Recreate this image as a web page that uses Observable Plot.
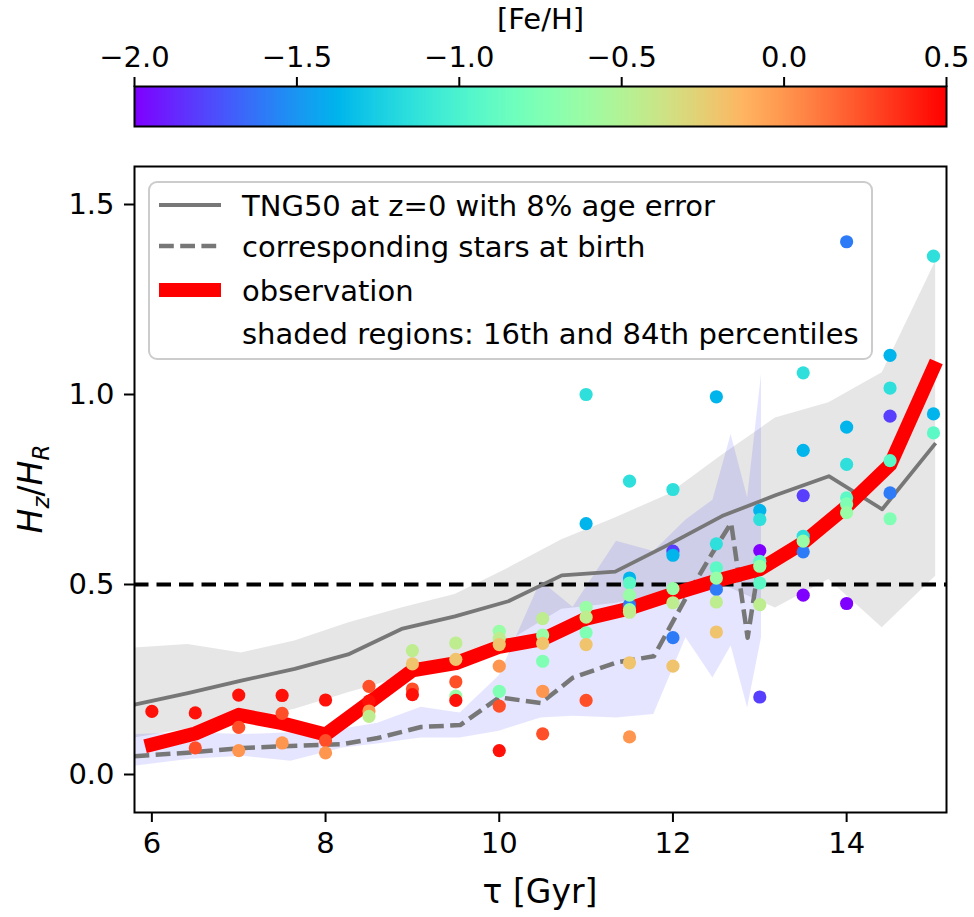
<!DOCTYPE html>
<html><head><meta charset="utf-8">
<script src="https://cdn.jsdelivr.net/npm/d3@7"></script>
<script src="https://cdn.jsdelivr.net/npm/@observablehq/plot@0.6"></script>
<style>
body{margin:0;background:#fff;}
#wrap{width:974px;height:917px;}
#wrap svg{display:block;}
</style></head><body><div id="wrap"></div>
<script>
// ---------- data ----------
const obsAge   = [6, 6.5, 7, 7.5, 8, 8.5, 9, 9.5, 10, 10.5, 11, 11.5, 12, 12.5, 13, 13.5, 14, 14.5, 15];
const obsHzHR  = [0.079, 0.108, 0.157, 0.135, 0.105, 0.189, 0.274, 0.293, 0.336, 0.356, 0.41, 0.437, 0.475, 0.51, 0.54, 0.61, 0.705, 0.815, 1.07];

const tngAge = [5.8, 6.415, 7.03, 7.645, 8.26, 8.875, 9.49, 10.105, 10.72, 11.335, 11.95, 12.565, 13.18, 13.795, 14.41, 15.025];
const tngMed = [0.184, 0.214, 0.247, 0.278, 0.316, 0.383, 0.416, 0.456, 0.524, 0.534, 0.605, 0.68, 0.735, 0.785, 0.698, 0.872];
const tngP84 = [0.333, 0.342, 0.32, 0.351, 0.399, 0.438, 0.474, 0.543, 0.618, 0.675, 0.737, 0.84, 0.938, 0.978, 1.057, 1.35];
const tngP16 = [0.096, 0.12, 0.14, 0.172, 0.215, 0.255, 0.295, 0.35, 0.435, 0.45, 0.48, 0.5, 0.438, 0.513, 0.386, 0.522];

const birthAge = [5.8, 6.45, 7.05, 7.6, 8.2, 8.6, 9.1, 9.55, 10.0, 10.48, 10.85, 11.35, 11.78, 12.15, 12.46, 12.67, 12.86, 13.02];
const birthMed = [0.048, 0.058, 0.07, 0.075, 0.08, 0.096, 0.125, 0.13, 0.203, 0.188, 0.255, 0.295, 0.311, 0.465, 0.585, 0.662, 0.36, 0.596];
const birthP84 = [0.105, 0.11, 0.105, 0.11, 0.12, 0.135, 0.177, 0.162, 0.26, 0.509, 0.44, 0.614, 0.587, 0.67, 0.722, 0.895, 0.728, 1.053];
const birthP16 = [0.022, 0.04, 0.048, 0.035, 0.07, 0.08, 0.096, 0.096, 0.114, 0.149, 0.153, 0.149, 0.158, 0.36, 0.254, 0.338, 0.175, 0.36];

// individual galaxies: age, Hz/HR, [Fe/H]
const starAge = [
  6,
  6.5, 6.5,
  7, 7, 7,
  7.5, 7.5, 7.5,
  8, 8, 8,
  8.5, 8.5, 8.5, 8.5,
  9, 9, 9, 9,
  9.5, 9.5, 9.5, 9.5, 9.5,
  10, 10, 10, 10, 10, 10, 10,
  10.5, 10.5, 10.5, 10.5, 10.5, 10.5,
  11, 11, 11, 11, 11, 11, 11,
  11.5, 11.5, 11.5, 11.5, 11.5, 11.5, 11.5, 11.5, 11.5,
  12, 12, 12, 12, 12, 12, 12,
  12.5, 12.5, 12.5, 12.5, 12.5, 12.5, 12.5,
  13, 13, 13, 13, 13, 13, 13, 13,
  13.5, 13.5, 13.5, 13.5, 13.5, 13.5, 13.5,
  14, 14, 14, 14, 14, 14, 14,
  14.5, 14.5, 14.5, 14.5, 14.5, 14.5,
  15, 15, 15
];
const starHzHR = [
  0.166,
  0.162, 0.070,
  0.209, 0.124, 0.063,
  0.208, 0.161, 0.083,
  0.196, 0.089, 0.057,
  0.232, 0.193, 0.167, 0.153,
  0.326, 0.291, 0.225, 0.210,
  0.346, 0.303, 0.244, 0.206, 0.195,
  0.377, 0.358, 0.342, 0.285, 0.219, 0.180, 0.063,
  0.410, 0.367, 0.345, 0.298, 0.219, 0.107,
  1.000, 0.660, 0.440, 0.414, 0.373, 0.342, 0.195,
  0.772, 0.517, 0.504, 0.447, 0.472, 0.434, 0.427, 0.294, 0.099,
  0.750, 0.588, 0.577, 0.489, 0.452, 0.360, 0.285,
  0.994, 0.607, 0.544, 0.487, 0.517, 0.454, 0.375,
  0.695, 0.671, 0.589, 0.561, 0.548, 0.504, 0.447, 0.204,
  1.057, 0.853, 0.734, 0.586, 0.627, 0.614, 0.472,
  1.402, 0.914, 0.816, 0.728, 0.712, 0.689, 0.450,
  1.103, 1.017, 0.943, 0.826, 0.741, 0.673,
  1.364, 0.949, 0.899
];
const starFeH = [
  0.45,
  0.45, 0.25,
  0.45, 0.25, 0.0,
  0.45, 0.25, 0.0,
  0.45, 0.25, 0.0,
  0.25, 0.45, 0.0, -0.45,
  -0.45, -0.2, 0.25, 0.45,
  -0.45, -0.2, 0.25, -0.625, 0.45,
  -0.625, -0.45, -0.2, 0.0, -0.75, 0.25, 0.45,
  -0.45, -0.625, -0.2, -0.75, 0.0, 0.25,
  -1.15, -1.375, -0.625, -0.45, -0.75, -0.2, 0.25,
  -1.15, -1.375, -0.925, -1.6, -0.625, -0.625, -0.45, -0.2, 0.0,
  -1.15, -1.8, -1.375, -0.625, -0.45, -1.6, -0.2,
  -1.375, -1.15, -0.925, -1.6, -0.625, -0.45, -0.2,
  -1.375, -1.15, -2.0, -0.925, -0.625, -0.925, -0.45, -1.8,
  -1.15, -1.375, -1.8, -1.6, -1.15, -0.625, -2.0,
  -1.6, -1.375, -1.15, -0.925, -0.75, -0.625, -2.0,
  -1.375, -1.15, -1.8, -0.925, -1.6, -0.75,
  -1.15, -1.375, -0.925
];

const fehTicks = [-2.0, -1.5, -1.0, -0.5, 0.0, 0.5];
const xTicks = [6, 8, 10, 12, 14];
const yTicks = [0.0, 0.5, 1.0, 1.5];

const legendLabels = [
  "TNG50 at z=0 with 8% age error",
  "corresponding stars at birth",
  "observation",
  "shaded regions: 16th and 84th percentiles"
];

// ---------- helpers ----------
function mplRainbow(t) {
  const r = Math.min(1, Math.abs(2 * t - 0.5));
  const g = Math.max(0, Math.sin(Math.PI * t));
  const b = Math.max(0, Math.cos(Math.PI * t / 2));
  return d3.rgb(r * 255, g * 255, b * 255).formatHex();
}
const colorScale = {type: "linear", domain: [-2, 0.5], interpolate: mplRainbow};
const FS = 29;      // tick & legend font size
const LFS = 33;     // axis label font size
const FONT = "DejaVu Sans";
const LINEGRAY = "#777777";

const obs = obsAge.map((a, i) => ({age: a, v: obsHzHR[i]}));
const tng = tngAge.map((a, i) => ({age: a, med: tngMed[i], lo: tngP16[i], hi: tngP84[i]}));
const birth = birthAge.map((a, i) => ({age: a, med: birthMed[i], lo: birthP16[i], hi: birthP84[i]}));
const stars = starAge.map((a, i) => ({age: a, v: starHzHR[i], feh: starFeH[i]}));

// ---------- colorbar ----------
const cbar = Plot.plot({
  width: 974, height: 140,
  marginTop: 86, marginBottom: 14, marginLeft: 134, marginRight: 28,
  style: {fontFamily: FONT, fontSize: FS + "px", background: "white", color: "black"},
  x: {domain: [-2, 0.5]},
  y: {domain: [0, 1], axis: null},
  color: colorScale,
  marks: [
    Plot.raster({x1: -2, x2: 0.5, y1: 0, y2: 1, width: 600, height: 1, fill: (x, y) => x, imageRendering: "auto"}),
    Plot.frame({stroke: "black", strokeWidth: 2}),
    Plot.axisX({anchor: "top", ticks: fehTicks, tickFormat: d3.format(".1f"), tickSize: 10, tickPadding: 10, strokeWidth: 2, label: null, fontSize: FS}),
    Plot.text(["[Fe/H]"], {text: d => d, frameAnchor: "top", dy: -78, fontSize: FS})
  ]
});

// ---------- main chart ----------
const TOP = 140;
const main = Plot.plot({
  width: 974, height: 777,
  marginTop: 26, marginBottom: 105, marginLeft: 134, marginRight: 28,
  style: {fontFamily: FONT, fontSize: FS + "px", background: "white", color: "black"},
  x: {domain: [5.8, 15.15]},
  y: {domain: [-0.1, 1.6]},
  color: colorScale,
  marks: [
    Plot.areaY(tng, {x: "age", y1: "lo", y2: "hi", fill: "gray", fillOpacity: 0.2, clip: true}),
    Plot.areaY(birth, {x: "age", y1: "lo", y2: "hi", fill: "blue", fillOpacity: 0.1, clip: true}),
    Plot.ruleY([0.5], {stroke: "black", strokeWidth: 4, strokeDasharray: "14.5,8"}),
    Plot.line(tng, {x: "age", y: "med", stroke: LINEGRAY, strokeWidth: 3.8, strokeLinecap: "butt", strokeLinejoin: "round", clip: true}),
    Plot.line(birth, {x: "age", y: "med", stroke: LINEGRAY, strokeWidth: 4.5, strokeDasharray: "14.8,6.4", strokeLinecap: "butt", strokeLinejoin: "round", clip: true}),
    Plot.line(obs, {x: "age", y: "v", stroke: "red", strokeWidth: 14, strokeLinecap: "square", strokeLinejoin: "round", clip: true}),
    Plot.dot(stars, {x: "age", y: "v", fill: "feh", r: 6.6, stroke: null}),
    Plot.frame({stroke: "black", strokeWidth: 2}),
    Plot.axisX({ticks: xTicks, tickSize: 10, tickPadding: 10, strokeWidth: 2, label: null, fontSize: FS}),
    Plot.axisY({ticks: yTicks, tickFormat: d3.format(".1f"), tickSize: 10, tickPadding: 10, strokeWidth: 2, label: null, fontSize: FS})
  ]
});

const wrap = document.getElementById("wrap");
wrap.appendChild(cbar);
wrap.appendChild(main);

// ---------- axis titles and legend ----------
const svg = d3.select(main);
svg.append("text")
  .attr("x", 540).attr("y", 903 - TOP)
  .attr("text-anchor", "middle")
  .attr("font-size", LFS).attr("fill", "black")
  .text("τ [Gyr]");

const yl = svg.append("text")
  .attr("transform", `translate(42,${489 - TOP}) rotate(-90)`)
  .attr("text-anchor", "middle")
  .attr("font-size", LFS).attr("fill", "black");
yl.append("tspan").attr("font-style", "italic").text("H");
yl.append("tspan").attr("font-style", "italic").attr("font-size", 23).attr("dy", 7).text("z");
yl.append("tspan").attr("dy", -7).text("/");
yl.append("tspan").attr("font-style", "italic").text("H");
yl.append("tspan").attr("font-style", "italic").attr("font-size", 23).attr("dy", 7).text("R");

// legend, placed beneath the dots
const dotsG = main.querySelector('g[aria-label="dot"]');
const leg = d3.select(main.insertBefore(document.createElementNS("http://www.w3.org/2000/svg", "g"), dotsG));
leg.attr("text-anchor", "start");
leg.append("rect")
  .attr("x", 149).attr("y", 182 - TOP).attr("width", 723).attr("height", 177)
  .attr("rx", 8).attr("fill", "white").attr("fill-opacity", 0.8)
  .attr("stroke", "#cccccc").attr("stroke-width", 2);
const rowY = [205, 246, 290, 333].map(v => v - TOP);
const handles = [
  {stroke: LINEGRAY, w: 3.8, dash: null},
  {stroke: LINEGRAY, w: 4.5, dash: "14.8,6.4"},
  {stroke: "red", w: 14, dash: null},
  null
];
rowY.forEach((y, i) => {
  const h = handles[i];
  if (h) {
    leg.append("line").attr("x1", 159).attr("x2", 221).attr("y1", y).attr("y2", y)
      .attr("stroke", h.stroke).attr("stroke-width", h.w)
      .attr("stroke-dasharray", h.dash);
  }
  leg.append("text").attr("x", 242).attr("y", y + 10.5)
    .attr("text-anchor", "start")
    .attr("font-size", FS).attr("fill", "black").text(legendLabels[i]);
});
</script>
</body></html>
